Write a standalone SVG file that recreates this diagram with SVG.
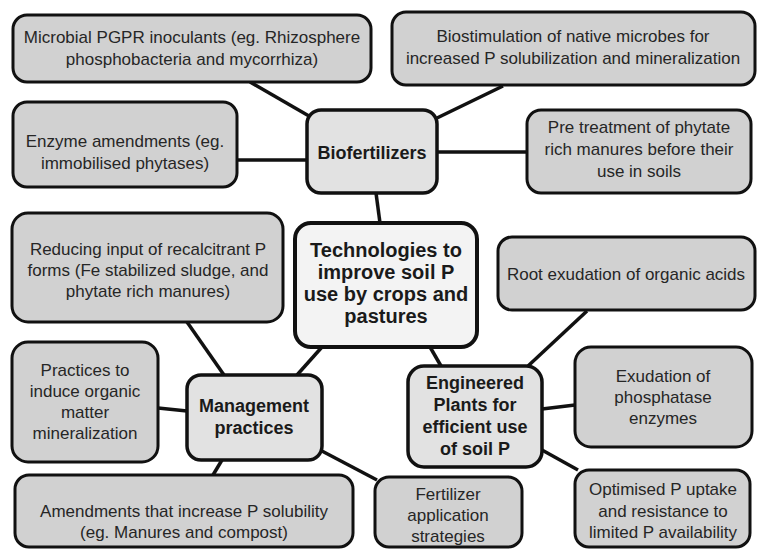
<svg xmlns="http://www.w3.org/2000/svg" width="759" height="550" viewBox="0 0 759 550">
<style>
.box{fill:#d1d1d1;stroke:#111;stroke-width:3}
.mid{fill:#e2e2e2;stroke:#111;stroke-width:3.5}
.ctr{fill:#f3f3f3;stroke:#111;stroke-width:4}
.t{font-family:"Liberation Sans",Arial,sans-serif;font-size:17px;fill:#262626;text-anchor:middle}
.b{font-family:"Liberation Sans",Arial,sans-serif;font-size:18px;font-weight:bold;fill:#1a1a1a;text-anchor:middle}
.bc{font-family:"Liberation Sans",Arial,sans-serif;font-size:20px;font-weight:bold;fill:#1a1a1a;text-anchor:middle}
.c{stroke:#111;stroke-width:3.5;fill:none}
</style>
<rect width="759" height="550" fill="#fff"/>
<g id="connectors">
<line class="c" x1="250" y1="82" x2="309" y2="116"/>
<line class="c" x1="237" y1="160" x2="307" y2="160"/>
<line class="c" x1="503" y1="86" x2="437" y2="118"/>
<line class="c" x1="437" y1="152" x2="527" y2="152"/>
<line class="c" x1="376" y1="193" x2="380" y2="223"/>
<line class="c" x1="187" y1="322" x2="224" y2="375"/>
<line class="c" x1="322" y1="347" x2="297" y2="375"/>
<line class="c" x1="158" y1="408" x2="187" y2="411"/>
<line class="c" x1="222" y1="460" x2="213" y2="475"/>
<line class="c" x1="320" y1="450" x2="377" y2="480"/>
<line class="c" x1="430" y1="347" x2="441" y2="366"/>
<line class="c" x1="587" y1="311" x2="528" y2="366"/>
<line class="c" x1="575" y1="405" x2="542" y2="409"/>
<line class="c" x1="578" y1="470" x2="542" y2="450"/>
</g>
<g id="n-microbial">
<rect class="box" x="13" y="15" width="358" height="67" rx="14"/>
<text class="t" x="192" y="43">Microbial PGPR inoculants (eg. Rhizosphere</text>
<text class="t" x="192" y="65">phosphobacteria and mycorrhiza)</text>
</g>
<g id="n-enzyme">
<rect class="box" x="13" y="102" width="224" height="85" rx="14"/>
<text class="t" x="125" y="147">Enzyme amendments (eg.</text>
<text class="t" x="125" y="169">immobilised phytases)</text>
</g>
<g id="n-biofertilizers">
<rect class="mid" x="307" y="110" width="130" height="83" rx="14"/>
<text class="b" x="372" y="159">Biofertilizers</text>
</g>
<g id="n-biostimulation">
<rect class="box" x="392" y="12" width="363" height="73" rx="14"/>
<text class="t" x="573" y="42">Biostimulation of native microbes for</text>
<text class="t" x="573" y="64">increased P solubilization and mineralization</text>
</g>
<g id="n-pretreatment">
<rect class="box" x="527" y="110" width="224" height="83" rx="14"/>
<text class="t" x="639" y="133">Pre treatment of phytate</text>
<text class="t" x="639" y="155">rich manures before their</text>
<text class="t" x="639" y="177">use in soils</text>
</g>
<g id="n-reducing">
<rect class="box" x="12" y="213" width="271" height="109" rx="16"/>
<text class="t" x="148" y="255">Reducing input of recalcitrant P</text>
<text class="t" x="148" y="276">forms (Fe stabilized sludge, and</text>
<text class="t" x="148" y="297">phytate rich manures)</text>
</g>
<g id="n-central">
<rect class="ctr" x="295" y="223" width="182" height="124" rx="16"/>
<text class="bc" x="386" y="257">Technologies to</text>
<text class="bc" x="386" y="279">improve soil P</text>
<text class="bc" x="386" y="301">use by crops and</text>
<text class="bc" x="386" y="323">pastures</text>
</g>
<g id="n-root">
<rect class="box" x="498" y="237" width="257" height="73" rx="14"/>
<text class="t" x="626" y="280">Root exudation of organic acids</text>
</g>
<g id="n-practices">
<rect class="box" x="12" y="342" width="146" height="120" rx="16"/>
<text class="t" x="85" y="376">Practices to</text>
<text class="t" x="85" y="397">induce organic</text>
<text class="t" x="85" y="418">matter</text>
<text class="t" x="85" y="439">mineralization</text>
</g>
<g id="n-management">
<rect class="mid" x="187" y="375" width="135" height="85" rx="14"/>
<text class="b" x="254" y="412">Management</text>
<text class="b" x="254" y="434">practices</text>
</g>
<g id="n-engineered">
<rect class="mid" x="408" y="366" width="134" height="101" rx="16"/>
<text class="b" x="475" y="389">Engineered</text>
<text class="b" x="475" y="411">Plants for</text>
<text class="b" x="475" y="433">efficient use</text>
<text class="b" x="475" y="455">of soil P</text>
</g>
<g id="n-exudation">
<rect class="box" x="575" y="347" width="177" height="100" rx="16"/>
<text class="t" x="663" y="382">Exudation of</text>
<text class="t" x="663" y="403">phosphatase</text>
<text class="t" x="663" y="424">enzymes</text>
</g>
<g id="n-amendments">
<rect class="box" x="15" y="475" width="338" height="72" rx="14"/>
<text class="t" x="184" y="517">Amendments that increase P solubility</text>
<text class="t" x="184" y="538">(eg. Manures and compost)</text>
</g>
<g id="n-fertilizer">
<rect class="box" x="375" y="477" width="147" height="70" rx="14"/>
<text class="t" x="448" y="500">Fertilizer</text>
<text class="t" x="448" y="521">application</text>
<text class="t" x="448" y="542">strategies</text>
</g>
<g id="n-optimised">
<rect class="box" x="575" y="470" width="175" height="77" rx="14"/>
<text class="t" x="663" y="495">Optimised P uptake</text>
<text class="t" x="663" y="517">and resistance to</text>
<text class="t" x="663" y="538">limited P availability</text>
</g>
</svg>
